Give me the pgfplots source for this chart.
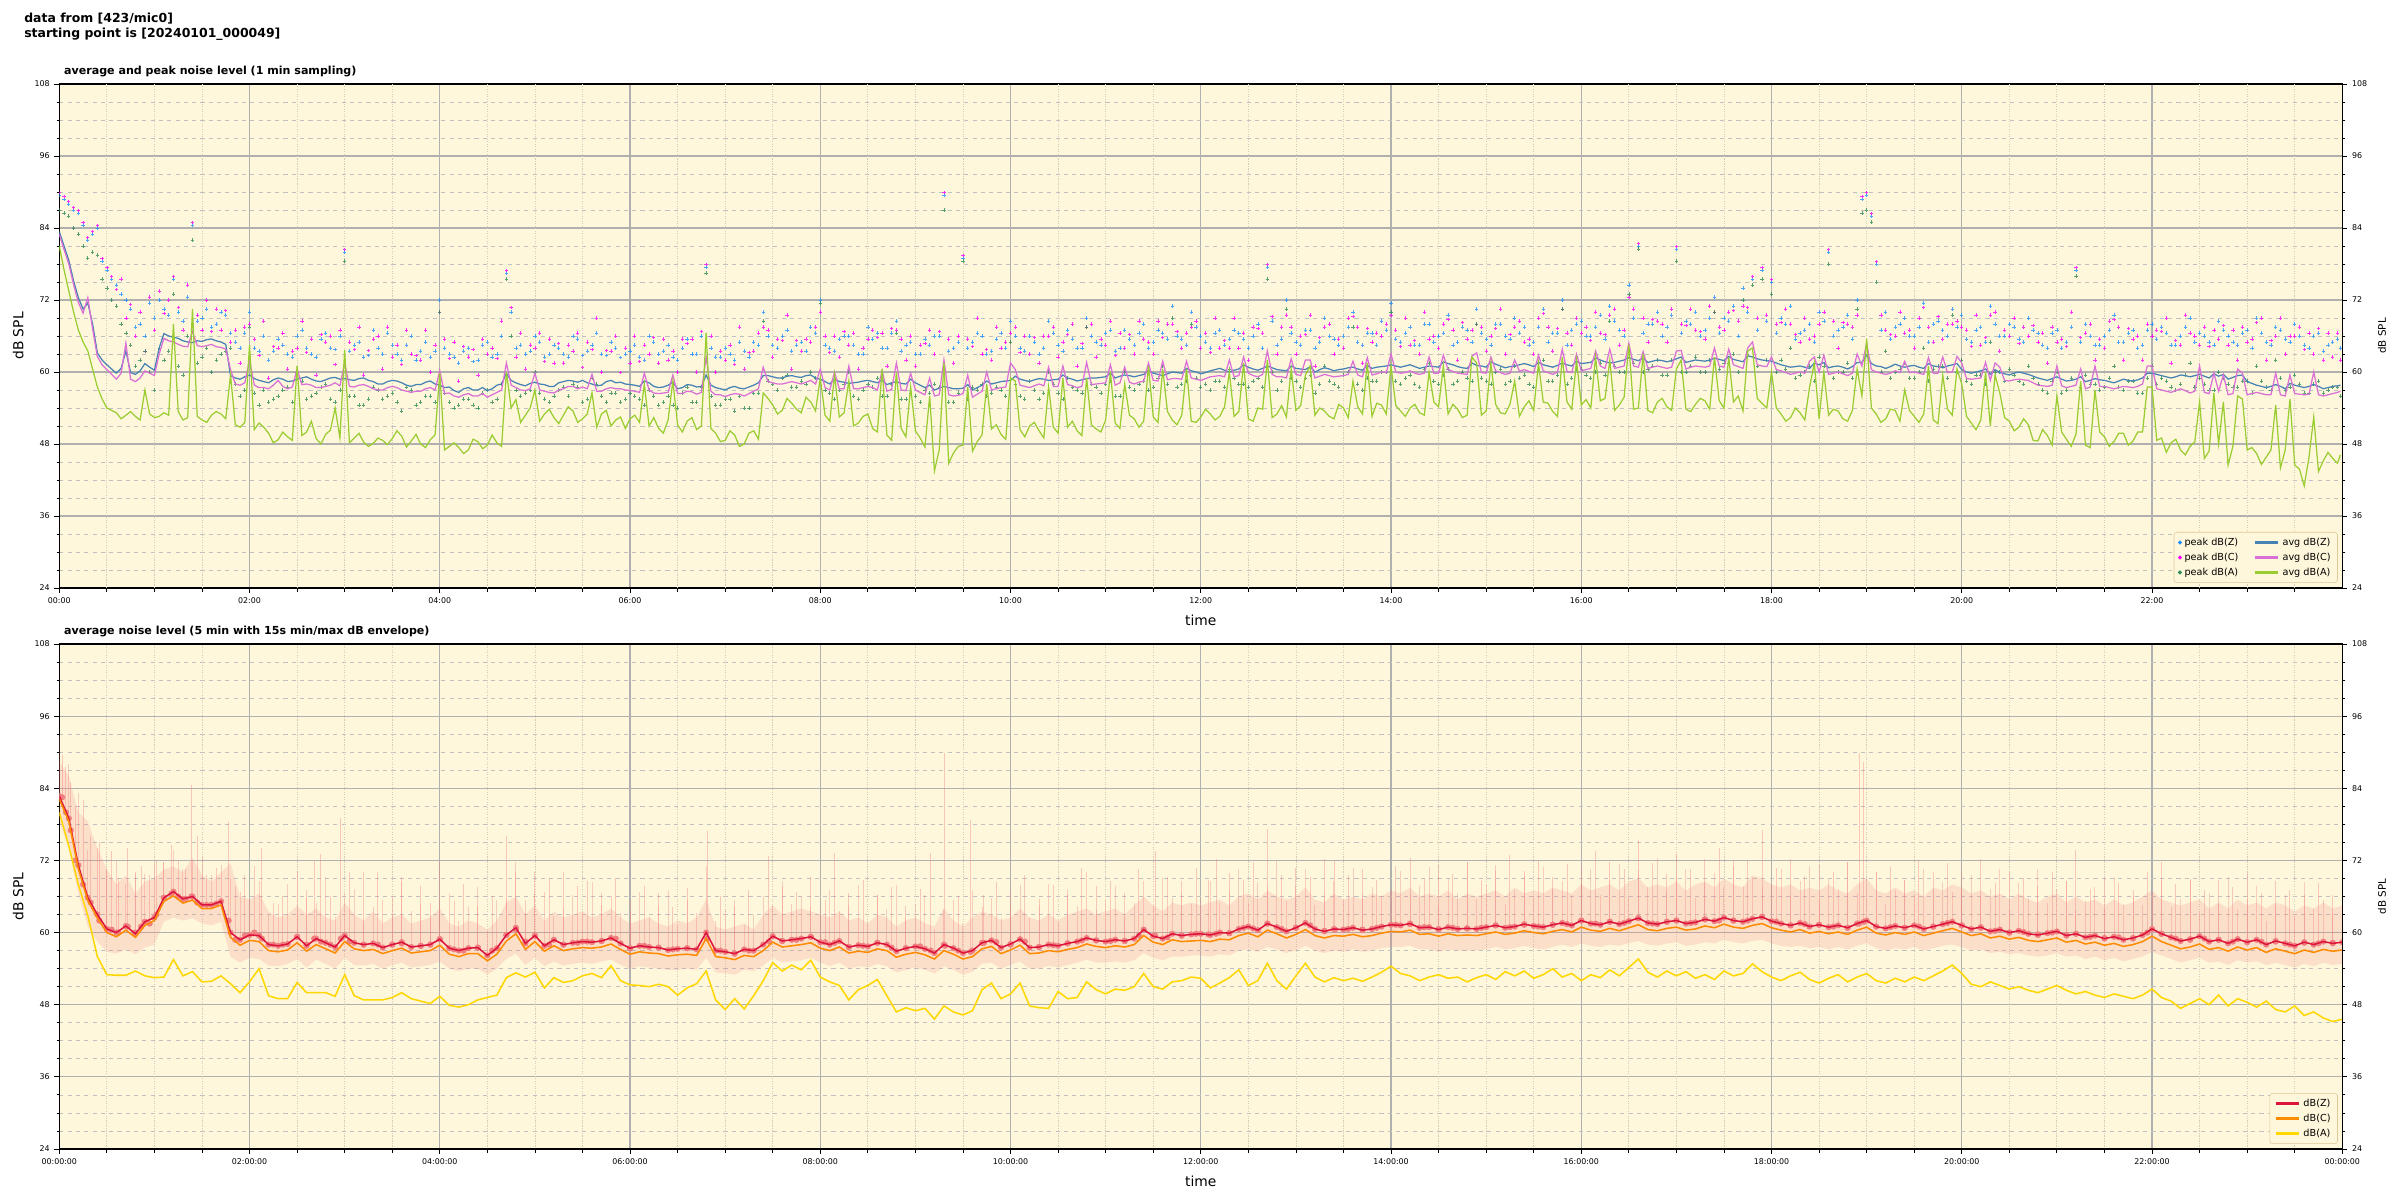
\documentclass[border=0pt]{standalone}
\usepackage{pgfplots}
\pgfplotsset{compat=1.18}
\usepackage{pgfplotstable}
\usepgfplotslibrary{fillbetween}
\usepackage{fontspec}
\setmainfont{DejaVu Sans}

\definecolor{bgc}{RGB}{255,247,220}
\definecolor{pkZ}{RGB}{30,144,255}
\definecolor{pkC}{RGB}{255,0,255}
\definecolor{pkA}{RGB}{46,139,87}
\definecolor{avZ}{RGB}{70,130,180}
\definecolor{avC}{RGB}{218,112,214}
\definecolor{avA}{RGB}{154,205,50}
\definecolor{lnZ}{RGB}{220,20,60}
\definecolor{lnC}{RGB}{255,140,0}
\definecolor{lnA}{RGB}{255,215,0}
\definecolor{envc}{RGB}{240,128,128}
\definecolor{gridc}{RGB}{176,176,176}
\definecolor{mgridc}{RGB}{192,192,192}
\definecolor{xmgridc}{RGB}{212,205,185}
\definecolor{legframe}{RGB}{222,200,150}

\pgfplotstableread{
t Z C A pZ pC pA
0.0 83.4 83.0 81.0 89.5 89.9 87.0
0.05 81.0 80.4 77.0 88.8 89.2 86.5
0.1 78.6 78.0 73.5 88.0 88.4 86.0
0.15 75.2 74.6 70.0 87.0 87.4 84.0
0.2 72.4 71.6 67.0 86.5 86.9 83.0
0.25 70.5 69.8 65.0 84.5 84.9 81.0
0.3 71.5 72.4 63.5 82.0 82.4 79.0
0.35 68.0 67.2 60.5 83.0 83.4 80.0
0.4 63.2 62.6 57.5 84.0 84.4 79.5
0.45 62.0 61.2 55.5 78.5 78.9 75.5
0.5 61.2 60.4 54.0 77.0 77.4 74.0
0.55 60.5 59.6 53.6 75.5 75.9 72.0
0.6 59.8 58.8 53.2 74.5 73.7 71.0
0.65 60.6 59.8 52.2 73.0 75.5 68.0
0.7 63.5 64.8 52.8 72.0 69.0 66.5
0.75 59.9 58.8 53.4 70.5 71.3 64.5
0.8 59.6 58.4 52.6 67.5 66.0 61.0
0.85 60.2 59.0 52.0 68.0 70.0 62.0
0.9 61.4 60.2 57.0 66.0 63.5 63.5
0.95 60.8 59.8 53.0 71.5 72.5 60.0
1.0 60.3 59.4 52.4 69.0 67.0 57.0
1.05 64.0 63.0 52.6 72.0 73.5 64.0
1.1 66.4 65.6 53.2 70.5 69.7 62.0
1.15 66.0 65.2 52.8 69.5 72.0 63.5
1.2 65.8 65.0 68.0 75.5 75.9 73.0
1.25 65.6 64.6 53.4 70.0 70.8 61.0
1.3 65.2 64.3 52.0 68.5 67.0 59.5
1.35 65.0 64.2 52.4 72.5 74.5 66.0
1.4 64.9 66.8 70.5 84.5 84.9 82.0
1.45 65.2 64.4 52.6 68.5 69.5 61.5
1.5 65.1 64.2 52.0 69.0 67.0 62.5
1.55 65.4 64.4 51.6 70.5 72.0 64.0
1.6 65.5 64.6 52.8 67.5 66.7 60.0
1.65 65.2 64.2 53.4 68.0 70.5 62.0
1.7 65.0 64.1 53.0 70.0 67.0 63.0
1.75 64.6 63.8 52.2 69.5 70.3 63.5
1.8 59.4 60.4 59.5 66.5 65.0 64.0
1.85 59.0 58.0 51.2 65.0 67.0 58.0
1.9 58.8 57.8 50.8 64.0 61.5 56.0
1.95 59.2 58.2 51.6 66.5 67.5 57.0
2.0 59.5 62.0 64.5 70.0 68.0 67.5
2.05 58.9 57.8 50.4 64.0 65.5 56.5
2.1 58.6 57.4 51.5 63.5 62.7 54.5
2.15 58.4 57.4 50.8 66.0 68.5 57.0
2.2 58.2 57.2 49.8 62.0 59.0 55.0
2.25 58.7 57.8 48.2 63.5 64.3 55.5
2.3 59.0 58.6 48.7 65.5 64.0 56.0
2.35 58.8 57.6 50.0 64.5 66.5 57.0
2.4 58.4 57.2 49.2 63.0 60.5 57.5
2.45 58.5 57.5 48.6 62.5 63.5 55.0
2.5 58.8 60.5 61.0 66.0 64.0 60.0
2.55 59.0 57.9 49.4 67.0 68.5 58.5
2.6 59.2 58.0 50.0 64.0 63.2 55.5
2.65 58.8 57.8 51.8 63.0 65.5 56.0
2.7 58.5 57.4 48.9 62.5 59.5 56.5
2.75 58.4 57.4 48.0 65.5 66.3 57.5
2.8 58.7 57.6 49.6 66.5 65.0 58.0
2.85 59.0 57.8 50.3 64.0 66.0 55.5
2.9 59.1 58.2 54.0 63.8 61.3 55.0
2.95 58.8 57.7 49.0 66.0 67.0 57.0
3.0 58.9 61.5 63.7 80.0 80.4 78.5
3.05 58.7 57.6 48.2 63.5 65.0 56.0
3.1 58.6 57.5 49.0 64.5 63.7 56.0
3.15 58.9 57.8 49.8 65.0 67.5 54.5
3.2 59.0 57.9 48.3 62.5 59.5 54.5
3.25 58.6 57.6 47.6 62.8 63.6 55.5
3.3 58.4 57.2 48.1 67.0 65.5 57.5
3.35 58.0 57.0 49.0 64.0 66.0 57.0
3.4 58.0 57.0 48.6 63.0 60.5 55.5
3.45 58.4 57.4 47.9 66.5 67.5 56.0
3.5 58.6 57.6 48.9 64.5 62.5 56.5
3.55 58.5 57.4 50.2 63.0 64.5 55.0
3.6 58.2 57.0 49.3 62.0 61.2 53.5
3.65 57.8 56.8 47.5 64.5 67.0 57.5
3.7 57.6 56.6 48.5 66.0 63.0 57.0
3.75 57.9 56.8 49.6 62.0 62.8 54.5
3.8 57.9 56.8 48.0 63.5 62.0 55.0
3.85 58.3 57.2 47.4 65.0 67.0 56.0
3.9 58.5 57.4 48.7 62.5 60.0 56.0
3.95 58.0 57.0 49.5 63.5 64.5 55.0
4.0 57.8 60.2 59.8 72.0 70.0 70.0
4.05 57.4 56.4 47.0 64.0 65.5 56.5
4.1 57.5 56.5 47.6 63.0 62.2 55.0
4.15 56.9 56.0 48.2 62.5 65.0 54.0
4.2 56.6 55.8 47.4 61.5 58.5 54.5
4.25 57.2 56.2 46.4 63.5 64.3 55.5
4.3 57.4 56.4 47.0 64.0 62.5 55.5
4.35 57.0 56.0 48.8 61.8 63.8 54.5
4.4 57.0 56.0 48.4 62.0 59.5 54.0
4.45 57.4 56.4 47.2 64.5 65.5 56.5
4.5 56.9 55.8 47.8 65.0 63.0 57.0
4.55 57.2 56.2 49.5 62.5 64.0 55.0
4.6 57.8 56.6 48.2 63.0 62.2 55.5
4.65 58.0 57.0 47.6 66.0 68.5 58.0
4.7 59.8 61.5 60.0 76.5 76.9 75.5
4.75 58.6 57.8 54.0 70.0 70.8 66.0
4.8 58.2 57.4 55.4 64.0 62.5 57.0
4.85 57.9 57.0 51.6 64.5 66.5 56.0
4.9 57.7 56.9 52.8 63.0 60.5 56.5
4.95 58.1 57.2 54.0 63.5 64.5 57.0
5.0 58.3 59.8 57.0 66.0 64.0 60.0
5.05 58.0 57.0 51.8 65.0 66.5 56.5
5.1 57.9 56.8 53.0 62.5 61.7 55.5
5.15 57.6 56.6 53.8 63.0 65.5 55.0
5.2 57.6 56.5 52.4 64.5 61.5 56.0
5.25 58.2 57.0 51.4 64.0 64.8 57.0
5.3 58.4 57.2 52.8 63.0 61.5 57.5
5.35 58.6 57.6 54.2 62.5 64.5 56.0
5.4 58.5 57.6 53.5 66.0 63.5 58.0
5.45 58.3 57.2 51.6 65.5 66.5 57.5
5.5 58.6 57.5 52.2 62.8 60.8 55.0
5.55 58.2 57.2 53.0 63.5 65.0 55.5
5.6 58.0 59.6 56.5 64.5 63.7 59.0
5.65 57.7 56.8 50.8 66.5 69.0 58.0
5.7 57.8 56.8 53.0 63.0 60.0 56.0
5.75 58.4 57.2 53.6 62.8 63.6 55.0
5.8 58.6 57.4 51.0 65.0 63.5 56.5
5.85 58.2 57.2 52.0 64.0 66.0 56.5
5.9 58.3 57.2 52.5 62.4 59.9 55.0
5.95 58.0 57.0 50.6 63.0 64.0 55.5
6.0 57.9 56.9 52.2 63.5 61.5 56.5
6.05 57.8 56.8 52.8 64.5 66.0 56.0
6.1 57.6 56.6 51.6 62.5 61.7 55.5
6.15 58.5 59.8 58.0 62.0 64.5 54.5
6.2 58.2 57.0 51.0 66.0 63.0 57.0
6.25 57.6 56.5 52.4 65.0 65.8 56.0
6.3 57.4 56.4 50.6 63.0 61.5 54.5
6.35 57.5 56.5 49.8 63.5 65.5 55.0
6.4 57.8 56.6 52.0 64.5 62.0 56.0
6.45 58.3 59.5 58.5 62.5 63.5 54.5
6.5 57.2 56.4 51.2 62.0 60.0 54.0
6.55 57.4 56.4 50.0 64.0 65.5 56.5
6.6 57.9 56.8 51.8 65.5 64.7 57.5
6.65 57.8 56.7 52.4 63.0 65.5 55.0
6.7 57.5 56.3 50.4 63.0 60.0 55.0
6.75 57.6 56.6 51.0 66.0 66.8 57.5
6.8 59.5 62.5 66.5 77.5 77.9 76.5
6.85 57.8 56.8 50.6 64.0 66.0 56.0
6.9 57.4 56.2 49.8 62.5 60.0 54.5
6.95 57.2 56.2 48.4 62.5 63.5 54.5
7.0 57.0 55.9 48.6 64.0 62.0 55.5
7.05 57.4 56.2 50.2 63.0 64.5 55.5
7.1 57.6 56.4 49.5 62.0 61.2 53.5
7.15 57.3 56.3 47.6 65.0 67.5 56.0
7.2 57.2 56.0 48.0 63.5 60.5 54.0
7.25 57.5 56.4 49.8 62.5 63.3 54.0
7.3 57.8 56.8 50.2 65.0 63.5 56.5
7.35 58.2 57.2 48.8 64.5 66.5 56.5
7.4 59.4 60.8 56.5 70.0 67.5 68.5
7.45 59.4 58.4 55.6 66.0 67.0 58.5
7.5 59.2 58.2 54.5 64.5 62.5 58.0
7.55 59.0 58.0 53.0 64.0 65.5 57.0
7.6 59.0 58.0 53.6 66.0 65.2 59.0
7.65 59.3 58.2 55.6 67.0 69.5 59.5
7.7 59.4 58.4 54.8 63.5 60.5 57.5
7.75 59.2 58.2 53.8 64.5 65.3 57.5
7.8 59.1 58.0 53.2 65.0 63.5 58.5
7.85 59.4 58.3 55.8 63.5 65.5 58.0
7.9 59.5 58.6 55.0 67.5 65.0 60.0
7.95 59.0 58.0 53.5 66.5 67.5 59.0
8.0 58.8 60.5 59.0 72.0 70.0 71.5
8.05 58.4 57.4 52.8 64.5 66.0 57.0
8.1 58.0 57.0 51.8 64.0 63.2 56.5
8.15 58.9 60.0 59.5 63.5 66.0 55.5
8.2 58.4 57.2 52.5 65.5 62.5 57.0
8.25 58.3 57.2 53.2 66.0 66.8 58.0
8.3 58.1 61.0 58.5 66.0 64.5 60.0
8.35 58.2 57.2 51.0 64.5 66.5 56.0
8.4 58.3 57.2 51.5 63.0 60.5 55.5
8.45 58.5 57.4 52.6 63.0 64.0 57.0
8.5 58.6 57.6 53.0 67.5 65.5 58.0
8.55 58.4 57.4 50.6 65.5 67.0 57.5
8.6 58.2 57.0 50.0 66.5 65.7 59.0
8.65 58.7 60.2 60.5 64.0 66.5 56.0
8.7 57.9 56.8 49.5 64.0 61.0 56.0
8.75 58.2 57.1 48.6 66.5 67.3 58.0
8.8 58.4 61.5 60.0 68.5 67.0 66.5
8.85 58.1 57.0 50.6 63.5 65.5 55.5
8.9 58.0 56.9 49.2 64.5 62.0 55.5
8.95 58.8 59.8 57.5 65.0 66.0 56.5
9.0 58.2 57.0 50.2 63.0 61.0 56.0
9.05 57.8 56.6 49.0 63.0 64.5 55.0
9.1 57.4 56.2 47.5 65.5 64.7 57.0
9.15 57.8 59.0 56.0 64.5 67.0 56.5
9.2 57.0 56.0 43.5 66.0 63.0 58.0
9.25 57.3 56.2 47.0 66.0 66.8 57.5
9.3 57.6 62.0 61.5 89.5 89.9 87.0
9.35 57.4 56.2 44.8 63.5 65.5 55.0
9.4 57.2 56.0 46.5 64.0 61.5 55.0
9.45 57.2 56.1 47.6 65.0 66.0 56.5
9.5 57.3 56.4 47.8 79.0 79.4 78.5
9.55 57.9 59.5 57.5 64.0 65.5 55.5
9.6 57.0 55.8 46.8 65.0 64.2 57.5
9.65 57.4 56.3 48.4 66.5 69.0 57.0
9.7 57.8 56.8 49.5 66.0 63.0 58.0
9.75 58.5 60.0 58.0 63.0 63.8 56.0
9.8 58.0 57.0 50.5 63.5 62.0 56.5
9.85 58.2 57.2 51.2 65.5 67.5 57.5
9.9 58.4 57.4 49.6 66.5 64.0 57.0
9.95 58.5 57.5 48.8 64.0 65.0 56.0
10.0 58.6 61.5 59.0 68.5 66.5 65.0
10.05 59.3 60.4 58.5 66.0 67.5 58.0
10.1 58.8 57.8 50.4 64.0 63.2 56.0
10.15 58.6 57.6 49.2 63.5 66.0 55.5
10.2 58.4 57.4 51.0 66.0 63.0 58.5
10.25 58.7 57.7 51.6 65.0 65.8 57.0
10.3 58.9 58.0 50.2 63.0 61.5 55.5
10.35 58.8 57.7 49.0 64.0 66.0 56.5
10.4 58.6 60.8 57.5 68.5 66.0 60.0
10.45 58.7 57.6 50.8 66.5 67.5 58.0
10.5 58.8 57.6 49.8 64.5 62.5 56.5
10.55 59.5 61.0 59.0 63.5 65.0 55.5
10.6 59.0 57.9 50.8 67.0 66.2 59.0
10.65 58.8 57.7 51.8 65.5 68.0 57.5
10.7 58.5 57.4 50.2 64.0 61.0 57.0
10.75 58.7 57.6 49.4 64.0 64.8 56.5
10.8 58.9 61.6 59.0 69.0 67.5 67.5
10.85 59.0 57.9 51.2 66.0 68.0 58.0
10.9 59.0 58.0 50.5 65.0 62.5 57.5
10.95 59.1 58.1 50.0 64.5 65.5 56.5
11.0 59.2 58.2 52.0 66.5 64.5 58.0
11.05 59.8 61.2 60.0 67.0 68.5 58.5
11.1 59.0 57.8 51.5 63.5 62.7 56.0
11.15 59.3 58.2 50.6 64.0 66.5 56.0
11.2 59.5 60.8 58.0 67.0 64.0 60.0
11.25 59.4 58.3 52.8 65.5 66.3 57.5
11.3 59.2 58.0 52.2 64.5 63.0 57.0
11.35 59.4 58.3 50.8 66.5 68.5 58.0
11.4 59.6 58.5 51.8 68.0 65.5 58.5
11.45 60.3 61.5 61.0 64.0 65.0 57.0
11.5 59.8 58.6 52.5 65.0 63.0 57.5
11.55 59.6 58.5 51.6 67.0 68.5 59.0
11.6 59.4 61.8 60.5 66.5 65.7 61.0
11.65 59.7 58.7 53.4 65.5 68.0 58.0
11.7 60.0 58.9 52.0 71.0 68.0 69.0
11.75 59.9 58.9 51.2 66.0 66.8 57.5
11.8 59.8 58.8 52.8 65.5 64.0 58.0
11.85 60.6 61.8 60.5 64.5 66.5 58.5
11.9 60.2 59.0 51.8 70.0 67.5 68.0
11.95 60.0 58.8 51.6 67.5 68.5 59.0
12.0 59.7 58.6 52.5 66.0 64.0 57.5
12.05 59.9 58.9 53.8 65.0 66.5 58.0
12.1 60.2 59.2 53.0 64.0 63.2 57.0
12.15 60.4 59.3 52.0 66.5 69.0 58.5
12.2 60.6 59.4 52.6 67.0 64.0 58.5
12.25 60.3 59.2 54.2 64.5 65.3 57.5
12.3 60.0 62.0 60.0 65.5 64.0 60.5
12.35 60.3 59.2 52.6 67.0 69.0 59.0
12.4 60.5 59.4 53.4 66.5 64.0 58.0
12.45 61.2 62.5 61.5 65.5 66.5 58.0
12.5 60.8 59.8 52.2 64.0 62.0 57.5
12.55 60.5 59.4 51.8 66.0 67.5 58.5
12.6 60.3 59.2 54.0 68.0 67.2 59.0
12.65 60.6 59.6 53.8 64.0 66.5 57.5
12.7 61.0 63.5 62.0 77.5 77.9 75.5
12.75 60.7 59.6 52.4 68.5 69.3 60.0
12.8 60.4 59.2 53.0 64.5 63.0 57.0
12.85 60.3 59.2 54.4 65.5 67.5 58.5
12.9 60.2 59.0 52.5 72.0 69.5 70.5
12.95 61.0 62.2 60.5 66.5 67.5 59.0
13.0 60.6 59.6 53.6 65.0 63.0 58.5
13.05 60.5 59.4 54.4 64.5 66.0 57.5
13.1 60.4 62.0 59.5 67.0 66.2 59.0
13.15 60.9 62.0 61.0 67.0 69.5 59.5
13.2 60.0 59.0 52.8 64.0 61.0 56.5
13.25 60.4 59.3 54.0 65.0 65.8 58.0
13.3 60.7 59.6 53.5 69.0 67.5 61.0
13.35 60.5 59.4 52.6 66.0 68.0 58.5
13.4 60.2 59.2 52.2 65.5 63.0 58.0
13.45 60.4 59.3 54.6 64.5 65.5 57.5
13.5 60.5 59.4 54.0 66.0 64.0 59.5
13.55 60.7 59.6 52.4 67.5 69.0 60.0
13.6 60.8 61.8 58.5 70.0 69.2 67.5
13.65 60.5 59.5 54.2 65.0 67.5 58.0
13.7 60.3 59.2 53.0 64.5 61.5 57.0
13.75 61.1 62.4 61.5 66.5 67.3 59.0
13.8 60.6 59.5 52.6 66.5 65.0 58.5
13.85 60.8 59.7 54.8 64.5 66.5 58.5
13.9 60.9 60.0 54.5 68.5 66.0 60.0
13.95 61.0 59.9 53.0 67.0 68.0 60.0
14.0 61.2 63.0 61.0 71.5 69.5 70.0
14.05 61.0 60.0 54.4 65.5 67.0 58.5
14.1 60.8 59.8 53.5 65.0 64.2 58.0
14.15 61.0 59.9 52.6 66.5 69.0 59.0
14.2 61.2 60.2 54.0 67.5 64.5 59.5
14.25 60.9 59.8 54.6 64.5 65.3 58.0
14.3 60.6 59.6 53.2 64.5 63.0 57.5
14.35 60.8 59.8 52.8 68.0 70.0 60.5
14.4 61.0 62.5 60.0 68.0 65.5 61.5
14.45 60.9 59.8 55.0 65.0 66.0 58.5
14.5 60.8 59.8 54.2 66.0 64.0 58.0
14.55 61.7 62.8 61.0 66.5 68.0 59.5
14.6 61.4 60.4 53.0 69.5 68.7 60.5
14.65 61.2 60.1 54.6 64.5 67.0 58.0
14.7 60.9 59.8 53.8 65.0 62.0 58.5
14.75 60.7 59.7 52.4 67.5 68.3 60.0
14.8 60.6 59.6 52.8 67.0 65.5 59.0
14.85 61.5 62.6 62.5 65.0 67.0 58.5
14.9 61.1 63.2 61.5 70.5 68.0 68.0
14.95 61.0 59.9 52.8 66.5 67.5 59.0
15.0 60.8 59.8 53.5 65.5 63.5 58.5
15.05 61.7 62.5 61.5 64.5 66.0 58.0
15.1 61.3 60.2 54.6 68.0 67.2 60.0
15.15 61.0 59.9 53.2 68.0 70.5 60.5
15.2 60.7 59.6 53.0 66.0 63.0 58.0
15.25 60.9 59.8 54.6 65.5 66.3 58.5
15.3 61.0 62.0 58.5 69.0 67.5 61.0
15.35 61.2 60.1 52.6 66.5 68.5 59.0
15.4 61.4 60.4 54.2 67.5 65.0 59.5
15.45 61.2 60.1 55.2 64.5 65.5 58.0
15.5 60.9 59.8 53.6 65.0 63.0 57.5
15.55 61.6 62.8 61.5 67.5 69.0 60.5
15.6 61.2 60.2 55.0 70.5 69.7 62.0
15.65 61.0 59.9 54.8 65.0 67.5 58.5
15.7 60.8 59.6 53.4 66.5 63.5 58.5
15.75 61.1 60.0 52.6 66.5 67.3 59.5
15.8 61.5 63.8 62.5 72.0 70.5 70.5
15.85 61.2 60.1 55.0 64.5 66.5 58.0
15.9 61.0 59.9 53.8 67.0 64.5 59.0
15.95 61.8 63.0 62.0 68.0 69.0 60.5
16.0 61.4 60.2 54.5 68.5 66.5 60.5
16.05 61.5 60.4 55.4 66.0 67.5 59.5
16.1 61.6 60.6 54.0 66.0 65.2 59.0
16.15 62.4 63.5 62.5 67.5 70.0 60.0
16.2 62.0 61.0 55.2 69.5 66.5 61.5
16.25 61.7 60.6 55.6 65.5 66.3 59.5
16.3 61.5 63.8 62.0 71.0 69.5 68.5
16.35 61.6 60.6 53.6 68.5 70.5 61.0
16.4 61.8 60.8 54.5 67.0 64.5 60.0
16.45 62.0 61.0 55.8 66.0 67.0 60.0
16.5 62.4 64.8 64.5 74.5 72.5 73.0
16.55 62.1 61.0 53.8 69.0 70.5 61.5
16.6 61.9 60.8 54.0 81.0 81.4 80.5
16.65 62.3 63.4 63.0 66.5 69.0 60.0
16.7 61.6 60.6 53.6 68.0 65.0 60.5
16.75 61.8 60.8 53.2 68.0 68.8 61.0
16.8 62.0 61.0 55.0 70.0 68.5 62.0
16.85 61.9 60.8 55.6 66.0 68.0 59.5
16.9 61.7 60.6 54.2 67.5 65.0 59.5
16.95 61.9 60.8 53.6 69.5 70.5 62.0
17.0 62.2 63.5 60.5 80.5 80.9 78.5
17.05 62.5 63.6 62.0 66.5 68.0 60.0
17.1 61.6 60.5 53.8 68.5 67.7 60.0
17.15 61.8 60.8 53.4 68.0 70.5 61.0
17.2 62.0 61.0 54.6 70.0 67.0 62.5
17.25 61.9 60.9 55.6 66.0 66.8 60.0
17.3 61.8 60.8 55.2 67.0 65.5 60.0
17.35 62.0 61.0 53.8 69.0 71.0 62.0
17.4 62.3 64.0 62.5 72.5 70.0 70.0
17.45 62.1 61.0 55.2 66.5 67.5 60.5
17.5 61.9 60.8 54.0 69.0 67.0 61.5
17.55 62.6 63.8 62.5 68.5 70.0 61.5
17.6 62.1 61.2 55.0 71.0 70.2 63.0
17.65 61.9 60.9 56.0 66.0 68.5 60.0
17.7 61.7 60.6 53.5 74.0 71.0 72.0
17.75 62.7 64.0 63.5 70.0 70.8 63.0
17.8 62.5 65.0 64.0 75.5 75.9 74.5
17.85 62.2 61.2 55.6 67.0 69.0 61.0
17.9 62.0 61.0 54.8 77.0 77.4 75.5
17.95 61.9 60.9 54.0 68.5 69.5 62.0
18.0 61.8 62.5 60.0 75.0 75.4 73.0
18.05 61.5 60.4 54.0 66.5 68.0 60.0
18.1 61.2 60.2 53.0 69.0 68.2 62.0
18.15 61.0 59.9 51.8 68.0 70.5 60.5
18.2 60.8 59.6 52.4 71.0 68.0 64.0
18.25 60.9 59.8 54.0 65.5 66.3 59.0
18.3 61.0 60.0 53.2 66.5 65.0 59.5
18.35 60.8 59.8 52.0 67.0 69.0 60.0
18.4 60.6 61.8 57.5 68.0 65.5 61.0
18.45 61.5 62.5 61.5 65.0 66.0 58.5
18.5 61.2 60.0 52.2 70.0 68.0 62.5
18.55 61.6 62.8 60.0 68.5 70.0 61.0
18.6 60.7 59.6 52.8 80.0 80.4 78.0
18.65 60.9 59.8 53.8 66.0 68.5 59.0
18.7 61.0 60.0 53.5 67.0 64.0 60.0
18.75 60.8 59.7 52.2 67.5 68.3 60.0
18.8 60.5 59.4 51.8 69.5 68.0 61.5
18.85 60.9 59.8 53.6 65.5 67.5 59.0
18.9 61.6 63.0 60.5 72.0 69.5 70.5
18.95 61.6 61.0 56.0 88.8 89.2 86.5
19.0 62.8 64.8 65.5 89.5 89.9 87.0
19.05 61.4 60.4 54.0 86.0 86.4 85.0
19.1 61.0 60.0 53.0 78.0 78.4 75.0
19.15 60.9 59.8 51.6 67.0 69.5 60.0
19.2 60.6 59.6 52.2 70.0 67.0 63.5
19.25 60.9 59.8 53.8 65.5 66.3 59.0
19.3 61.3 60.2 53.6 67.5 66.0 60.0
19.35 61.0 59.9 51.8 68.0 70.0 60.5
19.4 60.8 61.8 57.0 69.0 66.5 61.5
19.45 61.0 59.9 53.6 66.0 67.0 59.0
19.5 61.1 60.0 52.6 66.0 64.0 59.0
19.55 60.8 59.8 51.6 67.5 69.0 60.0
19.6 60.6 59.6 53.0 71.5 70.7 64.0
19.65 61.4 62.4 61.0 65.0 67.5 58.5
19.7 61.0 59.8 52.0 68.0 65.0 60.5
19.75 60.9 59.8 51.4 68.5 69.3 61.0
19.8 60.7 62.5 59.5 67.0 65.5 61.0
19.85 61.0 59.9 53.8 66.0 68.0 59.0
19.9 61.2 60.0 52.8 70.5 68.0 69.5
19.95 61.4 62.6 60.5 67.5 68.5 60.0
20.0 60.4 61.5 58.0 69.5 67.5 62.0
20.05 60.0 58.9 52.6 65.5 67.0 58.5
20.1 59.8 58.8 51.5 65.0 64.2 58.0
20.15 60.0 58.9 50.4 67.0 69.5 59.5
20.2 60.2 59.0 52.0 67.5 64.5 59.5
20.25 60.5 61.6 60.0 65.0 65.8 58.0
20.3 59.6 58.6 51.0 71.0 69.5 65.0
20.35 60.4 61.5 59.5 68.0 70.0 60.0
20.4 59.9 60.8 56.5 66.0 63.5 60.0
20.45 59.7 58.6 52.4 66.0 67.0 58.5
20.5 59.5 58.5 51.8 68.0 66.0 60.5
20.55 59.8 58.7 50.2 67.5 69.0 59.5
20.6 60.0 58.8 50.8 65.5 64.7 58.5
20.65 59.8 58.7 52.2 65.0 67.5 58.0
20.7 59.6 58.6 51.2 69.0 66.0 61.0
20.75 59.3 58.2 48.6 67.0 67.8 59.0
20.8 59.0 57.8 48.5 66.5 65.0 58.0
20.85 58.8 57.7 50.4 64.5 66.5 57.0
20.9 58.6 57.6 49.4 64.0 61.5 56.5
20.95 58.9 57.8 47.8 66.5 67.5 58.5
21.0 59.2 61.0 56.0 67.0 65.0 60.0
21.05 58.8 57.7 50.0 64.0 65.5 56.5
21.1 58.5 57.4 48.8 65.0 64.2 57.0
21.15 58.6 57.6 47.6 67.5 70.0 59.0
21.2 58.8 57.8 49.6 77.0 77.4 76.0
21.25 59.2 60.5 58.5 65.0 65.8 57.5
21.3 58.4 57.2 47.8 68.0 66.5 59.5
21.35 58.6 57.5 47.4 66.0 68.0 58.0
21.4 58.9 61.0 57.0 64.5 62.0 58.0
21.45 58.7 57.6 50.0 64.5 65.5 57.0
21.5 58.6 57.6 49.2 66.0 64.0 57.5
21.55 58.4 57.4 47.6 67.0 68.5 59.0
21.6 58.2 57.2 48.4 69.5 68.7 61.0
21.65 58.5 57.4 49.8 65.0 67.5 57.5
21.7 58.8 57.6 49.8 65.0 62.0 57.0
21.75 58.6 57.5 47.8 66.5 67.3 58.5
21.8 58.5 57.4 48.5 67.0 65.5 58.5
21.85 58.7 57.6 50.0 64.0 66.0 56.5
21.9 59.0 58.0 50.0 64.5 62.0 56.5
21.95 59.8 61.0 57.5 67.0 68.0 59.0
22.0 59.8 61.0 57.5 68.0 66.0 61.0
22.05 59.6 57.2 48.6 65.5 67.0 58.0
22.1 59.4 57.0 49.0 67.5 66.7 59.0
22.15 59.2 56.8 46.6 66.5 69.0 58.5
22.2 59.0 56.6 48.2 64.5 61.5 57.5
22.25 59.2 56.9 48.8 64.5 65.3 57.0
22.3 59.5 57.2 47.0 66.0 64.5 58.0
22.35 59.4 56.9 46.2 67.5 69.5 59.5
22.4 59.2 56.5 47.6 69.0 66.5 61.5
22.45 59.4 56.8 48.4 65.0 66.0 57.5
22.5 59.6 61.0 55.0 66.5 64.5 59.0
22.55 59.3 56.6 45.6 66.0 67.5 58.0
22.6 59.0 56.4 46.8 65.0 64.2 57.0
22.65 59.7 59.8 56.5 64.5 67.0 57.0
22.7 59.3 56.8 48.0 68.5 65.5 60.0
22.75 59.6 59.5 55.0 67.0 67.8 59.0
22.8 58.8 56.2 44.5 66.0 64.5 58.0
22.85 59.1 56.4 47.6 65.0 67.0 57.5
22.9 59.4 60.5 56.0 64.5 62.0 57.5
22.95 59.5 59.8 55.5 66.5 67.5 58.5
23.0 58.4 56.2 47.0 67.0 65.0 58.5
23.05 58.1 56.4 47.4 64.0 65.5 56.5
23.1 57.8 56.6 46.4 69.0 68.2 61.0
23.15 57.6 56.4 44.6 66.5 69.0 58.5
23.2 57.4 56.2 45.8 65.0 62.0 57.5
23.25 57.6 56.2 47.0 64.5 65.3 57.0
23.3 57.9 59.8 54.5 67.5 66.0 62.0
23.35 57.6 56.2 44.0 67.0 69.0 59.0
23.4 57.2 56.0 47.0 65.5 63.0 57.0
23.45 58.1 59.5 55.5 65.0 66.0 57.5
23.5 57.8 56.4 44.5 68.0 66.0 59.5
23.55 57.6 56.3 43.8 66.0 67.5 58.0
23.6 57.4 56.2 41.0 64.5 63.7 56.5
23.65 57.6 56.3 45.8 64.0 66.5 56.5
23.7 57.9 60.0 52.5 66.0 63.0 58.0
23.75 57.6 56.2 43.4 66.5 67.3 58.5
23.8 57.2 56.0 45.2 63.5 62.0 56.5
23.85 57.4 56.2 46.6 64.5 66.5 57.0
23.9 57.6 56.4 45.6 65.0 62.5 57.5
23.95 57.7 56.6 44.8 65.5 66.5 57.5
23.98 57.8 56.8 46.2 64.0 62.0 56.0
}\toptab

\pgfplotstableread{
t Z C A lo hi sp
0.0 82.7 82.2 80.0 78.5 88.5 10
0.1 79.0 78.5 74.4 74.0 86.0 9
0.2 71.2 70.6 68.0 66.5 80.0 12
0.3 65.8 65.3 62.8 61.0 78.5 8
0.4 63.0 62.4 56.0 58.5 74.0 11
0.5 60.6 60.0 53.0 56.8 70.5 9
0.6 60.0 59.3 52.9 56.5 68.0 12
0.7 61.1 60.4 52.9 57.2 69.5 7
0.8 59.8 59.2 53.6 56.4 66.5 10
0.9 61.8 61.2 52.8 57.5 68.5 8
1.0 62.5 62.0 52.5 58.0 69.0 9
1.1 65.8 65.2 52.6 61.8 70.5 6
1.2 66.8 66.1 55.5 62.5 71.0 7
1.3 65.6 64.9 52.8 62.0 70.0 5
1.4 66.0 65.4 53.5 62.4 72.5 6
1.5 64.6 64.0 51.8 61.5 69.5 8
1.6 64.6 64.0 51.9 61.2 68.5 5
1.7 65.2 64.6 52.8 61.8 70.0 6
1.8 60.0 59.2 51.5 56.0 71.5 9
1.9 58.8 57.9 50.0 55.0 66.0 8
2.0 59.6 58.7 51.8 55.8 65.5 6
2.1 59.5 58.5 54.0 55.6 66.5 9
2.2 58.0 57.0 49.5 54.5 63.5 5
2.3 57.8 56.8 49.0 54.4 62.5 7
2.4 58.1 57.1 49.0 54.8 63.0 10
2.5 59.3 58.3 51.7 55.6 64.5 4
2.6 57.8 56.9 50.0 54.2 63.0 8
2.7 59.0 58.0 50.0 55.5 64.0 6
2.8 58.3 57.3 50.0 54.8 62.5 11
2.9 57.6 56.6 49.4 54.0 62.0 5
3.0 59.5 58.5 53.0 55.8 65.0 7
3.1 58.3 57.3 49.5 54.6 63.0 9
3.2 58.0 57.0 48.8 54.5 62.0 4
3.3 58.2 57.2 48.8 54.8 63.5 6
3.4 57.5 56.5 48.8 54.0 61.5 8
3.5 58.0 57.0 49.2 54.6 62.5 5
3.6 58.4 57.4 50.0 55.0 63.0 10
3.7 57.6 56.6 49.0 54.2 61.5 6
3.8 57.8 56.8 48.6 54.4 62.0 7
3.9 58.0 57.0 48.2 54.6 62.5 5
4.0 58.9 57.9 49.4 55.2 64.0 6
4.1 57.4 56.4 47.9 54.0 61.5 9
4.2 57.0 56.0 47.6 53.6 61.0 5
4.3 57.4 56.5 48.0 54.0 62.0 7
4.4 57.5 56.5 48.8 54.0 61.5 10
4.5 56.2 55.3 49.2 53.0 60.5 4
4.6 57.4 56.4 49.6 54.0 62.0 8
4.7 59.6 58.6 52.5 55.6 65.0 6
4.8 60.8 59.8 53.3 56.5 66.0 11
4.9 58.2 57.2 52.6 54.6 63.0 5
5.0 59.5 58.5 53.4 55.8 64.5 7
5.1 57.8 56.9 50.8 54.4 62.0 9
5.2 58.8 57.8 52.5 55.2 63.5 4
5.3 58.0 57.0 51.7 54.5 62.5 6
5.4 58.3 57.3 52.0 54.8 63.0 8
5.5 58.5 57.5 52.8 55.0 63.5 5
5.6 58.4 57.4 53.2 54.8 62.5 10
5.7 58.6 57.6 52.5 55.2 63.0 6
5.8 59.1 58.1 54.5 55.5 64.0 7
5.9 58.2 57.2 52.0 54.6 62.5 5
6.0 57.4 56.4 51.3 54.0 61.5 6
6.1 57.8 56.8 51.2 54.4 62.0 9
6.2 57.6 56.6 51.0 54.2 62.5 5
6.3 57.5 56.5 51.4 54.0 61.5 7
6.4 57.1 56.1 51.0 53.8 61.0 10
6.5 57.3 56.3 49.6 53.8 62.0 4
6.6 57.4 56.4 50.8 54.0 61.5 8
6.7 57.2 56.2 51.5 53.8 62.5 6
6.8 60.0 59.0 53.6 55.8 65.5 11
6.9 57.0 56.0 48.8 53.4 61.0 5
7.0 56.8 55.8 47.2 53.2 60.5 7
7.1 56.5 55.5 49.0 53.0 61.0 9
7.2 57.2 56.2 47.3 53.8 61.5 4
7.3 57.0 56.0 49.5 53.6 60.5 6
7.4 58.0 57.0 52.0 54.5 63.0 8
7.5 59.4 58.4 55.0 55.8 64.5 5
7.6 58.6 57.6 53.6 55.0 63.0 10
7.7 58.8 57.8 54.6 55.2 63.5 6
7.8 59.0 58.0 53.8 55.4 64.0 7
7.9 59.3 58.3 55.4 55.8 63.5 5
8.0 58.4 57.4 52.6 55.0 63.0 6
8.1 58.0 57.0 51.8 54.4 62.5 9
8.2 58.6 57.6 51.2 55.0 63.5 5
8.3 57.6 56.6 48.8 54.0 62.0 7
8.4 57.9 56.9 50.5 54.4 62.5 10
8.5 57.7 56.7 51.2 54.2 61.5 4
8.6 58.3 57.3 52.2 54.8 63.0 8
8.7 58.0 57.0 49.5 54.4 62.5 6
8.8 56.9 55.9 46.8 53.4 61.0 11
8.9 57.4 56.4 47.5 53.8 62.0 5
9.0 57.7 56.7 47.0 54.2 62.5 7
9.1 57.3 56.3 47.4 53.8 61.5 9
9.2 56.6 55.6 45.6 53.2 61.0 4
9.3 58.0 57.0 47.8 54.4 64.0 6
9.4 57.4 56.4 46.8 53.8 62.0 8
9.5 56.6 55.6 46.3 53.0 61.0 5
9.6 57.0 56.0 47.0 53.5 62.5 10
9.7 58.3 57.3 50.5 54.8 63.5 6
9.8 58.7 57.7 51.6 55.0 63.0 7
9.9 57.5 56.5 49.0 54.0 62.0 5
10.0 58.1 57.1 49.8 54.6 62.5 6
10.1 58.9 57.9 51.6 55.2 64.0 9
10.2 57.5 56.5 47.8 54.0 62.5 5
10.3 57.6 56.6 47.5 54.0 62.0 7
10.4 58.0 57.0 47.4 54.5 63.0 10
10.5 57.8 56.8 50.2 54.2 62.0 4
10.6 58.2 57.2 49.0 54.6 63.0 8
10.7 58.5 57.5 49.2 55.0 63.5 6
10.8 59.1 58.1 51.8 55.5 64.0 11
10.9 58.7 57.7 50.5 55.0 63.0 5
11.0 58.5 57.5 49.8 55.0 63.5 7
11.1 58.8 57.8 50.6 55.2 64.0 9
11.2 58.6 57.6 50.4 55.0 63.0 4
11.3 59.0 58.0 51.0 55.4 64.5 6
11.4 60.5 59.5 53.2 56.6 66.0 8
11.5 59.4 58.4 51.0 55.8 64.5 5
11.6 59.0 58.0 50.6 55.4 63.5 10
11.7 59.8 58.8 51.8 56.0 65.0 6
11.8 59.5 58.5 52.0 56.0 64.5 7
11.9 59.7 58.6 52.6 56.2 65.0 5
12.0 59.8 58.7 52.4 56.2 64.5 6
12.1 59.6 58.5 50.8 56.0 65.0 9
12.2 60.0 58.9 51.6 56.4 65.5 5
12.3 59.9 58.8 52.5 56.2 64.5 7
12.4 60.6 59.5 53.8 57.0 66.0 10
12.5 61.0 59.9 51.2 57.2 66.5 4
12.6 60.4 59.3 52.0 56.8 65.5 8
12.7 61.5 60.4 54.9 57.6 67.0 6
12.8 60.9 59.8 52.0 57.2 66.0 11
12.9 60.2 59.1 50.6 56.6 65.5 5
13.0 60.8 59.7 52.8 57.0 66.0 7
13.1 61.6 60.5 54.9 57.8 67.5 9
13.2 60.6 59.5 52.6 57.0 65.5 4
13.3 60.2 59.1 51.8 56.6 65.0 6
13.4 60.6 59.5 52.5 57.0 66.5 8
13.5 60.5 59.4 52.0 56.8 65.5 5
13.6 60.8 59.7 52.4 57.2 66.0 10
13.7 60.4 59.3 51.9 56.8 65.5 6
13.8 60.6 59.5 52.6 57.0 66.5 7
13.9 61.0 59.9 53.4 57.4 66.0 5
14.0 61.3 60.2 54.4 57.6 67.0 6
14.1 61.2 60.1 53.2 57.6 66.5 9
14.2 61.5 60.4 52.8 57.8 67.5 5
14.3 60.8 59.7 52.0 57.2 66.0 7
14.4 60.9 59.8 52.6 57.2 66.5 10
14.5 60.5 59.4 53.0 56.8 66.0 4
14.6 60.9 59.8 52.4 57.2 67.0 8
14.7 60.6 59.5 52.6 57.0 65.5 6
14.8 60.7 59.6 51.8 57.0 66.5 11
14.9 60.6 59.5 52.5 57.0 66.0 5
15.0 60.9 59.8 53.0 57.2 66.5 7
15.1 61.2 60.1 52.2 57.6 67.0 9
15.2 60.8 59.7 53.5 57.2 66.0 4
15.3 61.0 59.9 52.8 57.4 67.5 6
15.4 61.4 60.3 53.6 57.8 66.5 8
15.5 61.1 60.0 52.4 57.4 67.0 5
15.6 60.9 59.8 53.0 57.2 66.5 10
15.7 61.3 60.2 54.0 57.6 67.5 6
15.8 61.6 60.5 52.6 58.0 67.0 7
15.9 61.2 60.1 53.2 57.6 66.5 5
16.0 62.0 60.9 52.0 58.2 68.0 6
16.1 61.5 60.4 53.0 57.8 67.0 9
16.2 61.3 60.2 52.5 57.6 67.5 5
16.3 61.8 60.7 53.8 58.0 68.0 7
16.4 61.4 60.3 52.8 57.8 67.0 10
16.5 61.9 60.8 54.2 58.2 68.5 4
16.6 62.4 61.3 55.6 58.6 69.0 8
16.7 61.6 60.5 53.4 58.0 67.5 6
16.8 61.4 60.3 52.6 57.8 68.0 11
16.9 61.8 60.7 53.6 58.2 67.5 5
17.0 62.0 60.9 52.8 58.4 68.5 7
17.1 61.5 60.4 53.5 57.8 67.0 9
17.2 61.7 60.6 52.4 58.0 68.0 4
17.3 62.2 61.1 53.0 58.4 68.5 6
17.4 61.9 60.8 52.2 58.2 67.5 8
17.5 62.5 61.4 53.6 58.8 69.0 5
17.6 62.0 60.9 52.8 58.4 68.0 10
17.7 61.8 60.7 53.2 58.2 67.5 6
17.8 62.3 61.2 54.8 58.6 69.5 7
17.9 62.6 61.5 53.5 58.8 69.0 5
18.0 61.9 60.8 52.6 58.2 68.0 6
18.1 61.5 60.4 52.0 57.8 67.5 9
18.2 61.2 60.1 52.8 57.6 68.0 5
18.3 61.6 60.5 53.4 57.8 67.0 7
18.4 61.0 59.9 52.2 57.4 67.5 10
18.5 61.3 60.2 51.6 57.6 67.0 4
18.6 60.9 59.8 52.4 57.2 68.0 8
18.7 61.2 60.1 53.0 57.6 67.0 6
18.8 60.8 59.7 51.8 57.2 66.5 11
18.9 61.5 60.4 52.6 57.8 68.0 5
19.0 62.0 60.9 53.2 58.2 69.0 7
19.1 61.0 59.9 52.0 57.4 67.0 9
19.2 60.7 59.6 51.6 57.0 66.5 4
19.3 61.1 60.0 52.4 57.4 67.5 6
19.4 60.8 59.7 51.8 57.2 66.5 8
19.5 61.2 60.1 52.6 57.6 67.0 5
19.6 60.6 59.5 52.0 57.0 66.0 10
19.7 61.0 59.9 52.8 57.4 67.5 6
19.8 61.4 60.3 53.6 57.8 67.0 7
19.9 61.8 60.7 54.6 58.0 68.0 5
20.0 61.2 60.1 53.2 57.6 67.5 6
20.1 60.6 59.5 51.4 57.0 66.5 9
20.2 60.9 59.8 51.0 57.2 67.0 5
20.3 60.2 59.1 51.8 56.6 66.0 7
20.4 60.5 59.4 51.2 56.8 66.5 10
20.5 60.0 58.9 50.6 56.4 65.5 4
20.6 60.3 59.2 51.0 56.6 66.5 8
20.7 59.8 58.7 50.4 56.2 65.5 6
20.8 59.6 58.5 50.0 56.0 65.0 11
20.9 59.9 58.8 50.6 56.2 66.0 5
21.0 60.2 59.1 51.2 56.6 66.5 7
21.1 59.5 58.4 50.4 56.0 65.0 9
21.2 59.8 58.7 49.8 56.2 66.0 4
21.3 59.2 58.1 50.2 55.6 65.0 6
21.4 59.5 58.4 49.6 56.0 65.5 8
21.5 59.0 57.9 49.2 55.4 64.5 5
21.6 59.3 58.2 49.8 55.8 65.5 10
21.7 58.8 57.7 49.4 55.2 64.5 6
21.8 59.1 58.0 49.0 55.6 65.0 7
21.9 59.6 58.5 49.6 56.0 66.0 5
22.0 60.6 59.4 50.6 56.8 67.0 6
22.1 59.8 58.5 49.2 56.2 65.5 9
22.2 59.2 57.9 48.6 55.6 65.0 5
22.3 58.6 57.3 47.4 55.0 64.5 7
22.4 58.9 57.6 48.2 55.4 65.0 10
22.5 59.4 58.1 49.0 55.8 65.5 4
22.6 58.5 57.2 48.0 55.0 64.0 8
22.7 58.8 57.5 49.6 55.2 65.0 6
22.8 58.2 56.9 47.8 54.6 64.0 11
22.9 58.9 57.6 49.0 55.4 65.5 5
23.0 58.4 57.1 48.4 55.0 64.5 7
23.1 58.8 57.5 47.6 55.2 65.0 9
23.2 58.0 56.7 48.6 54.6 64.0 4
23.3 58.6 57.3 47.2 55.0 65.0 6
23.4 58.2 56.9 46.8 54.6 64.5 8
23.5 57.8 56.5 47.8 54.2 63.5 5
23.6 58.4 57.1 46.2 54.8 64.5 10
23.7 58.0 56.7 46.8 54.4 64.0 6
23.8 58.5 57.2 45.8 55.0 65.0 7
23.9 58.2 56.9 45.2 54.6 64.0 5
24.0 58.4 57.1 45.6 54.8 64.5 6
}\bottab

\pgfplotstableread{
t b d
0.03 82.5 7.0
0.07 80.0 7.5
0.12 77.0 8.0
0.17 72.0 9.0
0.25 68.0 14.0
0.33 65.0 11.0
0.42 62.0 13.0
0.50 60.6 10.0
0.55 60.5 13.0
0.62 60.0 9.0
0.72 61.0 13.0
0.80 60.0 10.0
0.86 61.0 10.0
0.95 61.5 8.0
1.02 63.0 9.0
1.10 65.8 6.0
1.18 66.5 8.0
1.25 66.0 6.0
1.33 65.6 5.0
1.39 66.0 18.5
1.45 65.0 11.0
1.55 64.6 5.0
1.65 64.8 6.0
1.78 62.0 16.4
1.85 58.8 9.0
1.95 59.5 10.0
2.05 60.0 11.0
2.13 59.0 15.0
2.25 58.0 7.0
2.35 58.0 8.0
2.50 59.3 11.0
2.60 58.0 9.0
2.68 59.0 13.0
2.75 58.5 14.5
2.85 58.0 8.0
2.96 59.0 20.0
3.05 58.5 11.5
3.20 58.0 12.0
3.35 58.0 12.0
3.50 58.0 8.0
3.60 58.2 11.0
3.80 57.8 10.0
3.90 58.0 7.0
4.00 58.9 13.0
4.15 57.2 8.0
4.25 57.0 11.0
4.40 57.5 7.0
4.55 57.0 9.0
4.70 59.6 16.4
4.80 60.5 9.5
4.90 58.5 7.0
5.00 59.5 10.5
5.15 58.0 11.0
5.30 58.0 12.0
5.45 58.3 9.5
5.55 58.5 10.0
5.70 58.6 8.0
5.85 59.0 10.0
6.00 57.4 8.0
6.15 57.8 10.0
6.30 57.5 9.0
6.45 57.2 7.0
6.60 57.4 10.0
6.81 59.0 17.9
6.95 57.0 9.0
7.10 56.5 8.0
7.25 57.0 10.0
7.46 58.5 14.2
7.60 58.6 9.0
7.75 58.8 8.0
7.90 59.3 10.0
8.05 58.4 7.0
8.15 58.3 15.0
8.30 57.6 9.0
8.45 57.8 11.0
8.60 58.3 8.0
8.75 57.5 10.0
8.90 57.4 7.0
9.05 57.7 9.5
9.16 57.0 16.3
9.31 57.8 32.0
9.45 57.0 9.0
9.58 56.8 22.0
9.72 58.3 8.0
9.85 58.4 10.0
10.00 58.0 9.0
10.15 58.5 11.0
10.30 57.6 8.0
10.45 57.9 10.0
10.60 58.2 9.0
10.75 58.7 12.0
10.90 58.7 9.0
11.05 58.6 10.0
11.20 58.6 8.0
11.35 59.5 11.0
11.52 59.5 14.0
11.65 59.2 10.0
11.80 59.5 9.0
11.95 59.8 11.0
12.08 59.7 9.0
12.16 59.8 12.4
12.30 59.9 10.0
12.45 60.8 8.0
12.55 60.7 11.0
12.70 61.5 15.7
12.85 60.6 9.0
13.00 60.8 10.0
13.15 61.2 8.0
13.30 60.3 12.0
13.41 60.5 11.4
13.55 60.6 9.0
13.70 60.5 10.0
13.85 60.8 8.0
14.05 61.3 9.7
14.20 61.4 11.0
14.35 60.9 8.0
14.50 60.6 10.7
14.65 60.8 9.0
14.80 60.7 11.0
14.95 60.8 8.0
15.10 61.2 10.0
15.25 60.9 12.0
15.40 61.3 9.0
15.55 61.0 11.0
15.70 61.3 8.0
15.85 61.4 10.0
16.00 62.0 9.0
16.15 61.5 12.0
16.30 61.8 10.0
16.45 61.6 9.0
16.60 62.4 13.0
16.75 61.5 10.0
16.90 61.8 8.0
17.00 62.0 11.0
17.15 61.6 9.0
17.30 62.2 10.0
17.45 62.0 12.0
17.60 62.0 9.0
17.75 62.0 10.0
17.90 62.6 14.4
18.05 61.8 9.0
18.20 61.2 11.0
18.35 61.4 8.0
18.50 61.3 10.0
18.65 61.0 9.0
18.80 60.8 11.0
18.92 61.5 28.3
18.97 61.8 26.5
19.10 61.0 9.0
19.25 60.9 10.0
19.40 60.8 8.0
19.55 61.0 11.0
19.70 61.0 9.0
19.85 61.6 10.0
20.00 61.2 9.0
20.20 60.8 11.5
20.35 60.3 8.0
20.50 60.0 10.0
20.65 60.1 9.0
20.80 59.7 8.0
20.95 60.0 10.0
21.10 59.6 9.0
21.20 59.8 14.0
21.35 59.3 8.0
21.50 59.1 10.0
21.65 59.2 9.0
21.80 59.0 8.0
21.95 60.0 10.0
22.10 59.8 12.0
22.25 59.0 9.0
22.40 58.8 10.0
22.55 59.0 8.0
22.70 58.8 10.0
22.85 58.5 9.0
23.00 58.4 11.5
23.15 58.5 8.0
23.30 58.5 10.0
23.45 58.0 9.0
23.60 58.3 8.0
23.75 58.2 10.0
23.90 58.3 8.0
}\spk

\pgfplotsset{
  panel/.style={
    scale only axis, width=22.83in,
    xmin=0, xmax=24, ymin=24, ymax=108,
    clip marker paths=true,
    ytick={24,36,...,108}, minor y tick num=3,
    extra x ticks={0.5,1,1.5,2.5,3,3.5,4.5,5,5.5,6.5,7,7.5,8.5,9,9.5,10.5,11,11.5,12.5,13,13.5,14.5,15,15.5,16.5,17,17.5,18.5,19,19.5,20.5,21,21.5,22.5,23,23.5},
    extra x tick labels={},
    extra x tick style={grid=major, major grid style={densely dotted, xmgridc, line width=0.6pt}, major tick length=3pt},
    xmajorgrids, ymajorgrids, yminorgrids,
    major grid style={gridc, line width=0.8pt},
    minor grid style={mgridc, dashed, line width=0.55pt},
    axis background/.style={fill=bgc},
    axis line style={line width=0.9pt},
    tick align=outside, xtick pos=left, ytick pos=both, yticklabel pos=left,
    major tick length=3.5pt, minor tick length=2pt,
    tick style={black, line width=0.6pt},
    ticklabel style={font=\fontsize{5.7}{6.8}\selectfont},
    /pgf/number format/assume math mode=true,
    label style={font=\fontsize{7.5}{9}\selectfont},
    xlabel={time}, ylabel={dB SPL},
    every axis y label/.style={at={(axis description cs:0,0.5)}, xshift=-0.41in, rotate=90, anchor=center},
    every axis x label/.style={at={(axis description cs:0.5,0)}, yshift=-0.32in, anchor=center},
    every axis title/.style={at={(axis description cs:0,1)}, anchor=base west, yshift=0.095in, font=\bfseries\fontsize{8}{9.6}\selectfont},
    legend cell align=left,
    legend style={font=\fontsize{7}{8.4}\selectfont, fill=bgc, draw=legframe, rounded corners=2pt,
      at={(axis description cs:1,0)}, anchor=south east, xshift=-0.045in, yshift=0.05in,
      /tikz/every even column/.append style={column sep=0.12in}},
  },
  rightpanel/.style={
    scale only axis, width=22.83in,
    xmin=0, xmax=24, ymin=24, ymax=108,
    axis x line=none, axis y line*=right,
    ytick={24,36,...,108}, minor y tick num=3,
    tick align=outside, major tick length=3.5pt, minor tick length=2pt,
    tick style={black, line width=0.6pt},
    axis line style={line width=0.9pt},
    ticklabel style={font=\fontsize{5.7}{6.8}\selectfont},
    /pgf/number format/assume math mode=true,
    ylabel={dB SPL},
    every axis y label/.style={at={(axis description cs:1,0.5)}, xshift=0.396in, rotate=90, anchor=center, font=\fontsize{7.5}{9}\selectfont},
  },
}

\begin{document}
\begin{tikzpicture}
\path (0,0) rectangle (24in,12in);
\node[anchor=base west, font=\bfseries\fontsize{9}{11}\selectfont, inner sep=0pt] at (0.24in,11.77in) {data from [423/mic0]};
\node[anchor=base west, font=\bfseries\fontsize{9}{11}\selectfont, inner sep=0pt] at (0.24in,11.62in) {starting point is [20240101\_000049]};

% ---------- top panel ----------
\begin{axis}[panel, at={(0.593in,6.12in)}, anchor=south west, height=5.04in,
  title={average and peak noise level (1 min sampling)},
  xtick={0,2,...,22},
  xticklabels={00:00,02:00,04:00,06:00,08:00,10:00,12:00,14:00,16:00,18:00,20:00,22:00},
  legend columns=2]
\addlegendimage{only marks, mark=*, mark size=1.3pt, pkZ}
\addlegendentry{peak dB(Z)}
\addlegendimage{line width=2.2pt, avZ}
\addlegendentry{avg dB(Z)}
\addlegendimage{only marks, mark=*, mark size=1.3pt, pkC}
\addlegendentry{peak dB(C)}
\addlegendimage{line width=2.2pt, avC}
\addlegendentry{avg dB(C)}
\addlegendimage{only marks, mark=*, mark size=1.3pt, pkA}
\addlegendentry{peak dB(A)}
\addlegendimage{line width=2.2pt, avA}
\addlegendentry{avg dB(A)}
\addplot[forget plot, only marks, mark=+, mark size=1.2pt, pkZ, opacity=0.8, mark options={line width=0.5pt}] table[x=t, y=pZ] {\toptab};
\addplot[forget plot, only marks, mark=+, mark size=1.2pt, pkC, opacity=0.8, mark options={line width=0.5pt}] table[x=t, y=pC] {\toptab};
\addplot[forget plot, only marks, mark=+, mark size=1.2pt, pkA, opacity=0.8, mark options={line width=0.5pt}] table[x=t, y=pA] {\toptab};
\addplot[forget plot, avZ, line width=0.9pt] table[x=t, y=Z] {\toptab};
\addplot[forget plot, avC, line width=0.9pt] table[x=t, y=C] {\toptab};
\addplot[forget plot, avA, line width=0.9pt] table[x=t, y=A] {\toptab};
\end{axis}
\begin{axis}[rightpanel, at={(0.593in,6.12in)}, anchor=south west, height=5.04in]
\addplot[draw=none, mark=none, forget plot] coordinates {(0,24) (24,108)};
\end{axis}

% ---------- bottom panel ----------
\begin{axis}[panel, at={(0.593in,0.51in)}, anchor=south west, height=5.05in,
  title={average noise level (5 min with 15s min/max dB envelope)},
  xtick={0,2,...,24},
  xticklabels={00:00:00,02:00:00,04:00:00,06:00:00,08:00:00,10:00:00,12:00:00,14:00:00,16:00:00,18:00:00,20:00:00,22:00:00,00:00:00}]
\addlegendimage{line width=2.2pt, lnZ}
\addlegendentry{dB(Z)}
\addlegendimage{line width=2.2pt, lnC}
\addlegendentry{dB(C)}
\addlegendimage{line width=2.2pt, lnA}
\addlegendentry{dB(A)}
\addplot[forget plot, name path=lo, draw=none] table[x=t, y=lo] {\bottab};
\addplot[forget plot, name path=hi, draw=none] table[x=t, y=hi] {\bottab};
\addplot[forget plot, fill=envc, fill opacity=0.2, draw=none] fill between[of=hi and lo];
\addplot[forget plot, only marks, mark=none, envc, error bars/.cd, y dir=plus, y explicit, error mark=none,
  error bar style={envc, opacity=0.4, line width=0.7pt}] table[x=t, y=b, y error plus=d] {\spk};
\addplot[forget plot, only marks, mark=none, envc, error bars/.cd, y dir=plus, y explicit, error mark=none,
  error bar style={envc, opacity=0.35, line width=0.7pt}] table[x=t, y=Z, y error plus=sp] {\bottab};
\addplot[forget plot, lnZ, line width=1.1pt] table[x=t, y=Z] {\bottab};
\addplot[forget plot, lnC, line width=1.1pt] table[x=t, y=C] {\bottab};
\addplot[forget plot, lnA, line width=1.1pt] table[x=t, y=A] {\bottab};
\end{axis}
\begin{axis}[rightpanel, at={(0.593in,0.51in)}, anchor=south west, height=5.05in]
\addplot[draw=none, mark=none, forget plot] coordinates {(0,24) (24,108)};
\end{axis}
\end{tikzpicture}
\end{document}
